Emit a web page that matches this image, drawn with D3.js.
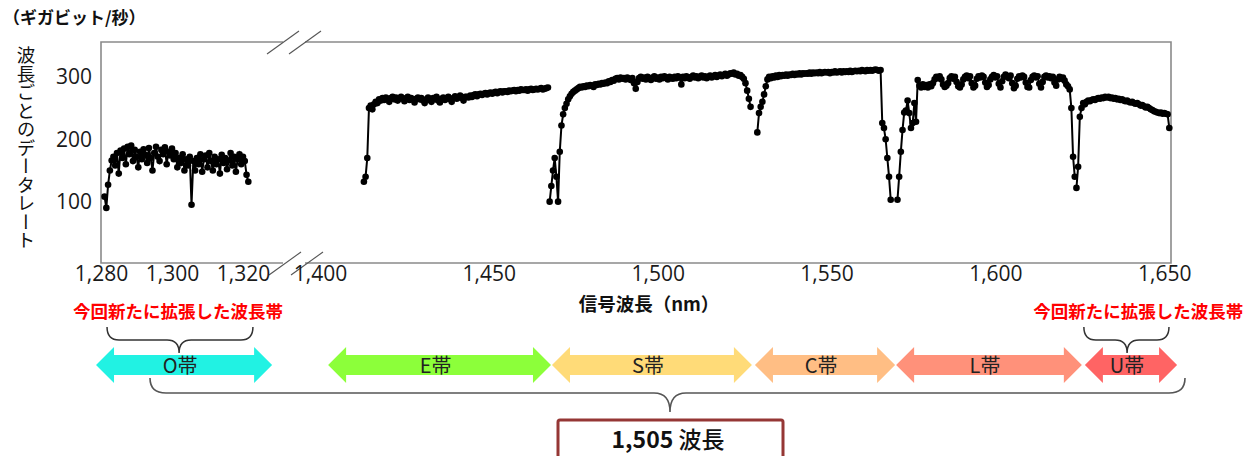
<!DOCTYPE html>
<html>
<head>
<meta charset="utf-8">
<script src="https://cdn.jsdelivr.net/npm/d3@7"></script>
<style>
  body { margin: 0; background: #fff; }
  svg { display: block; }
</style>
</head>
<body>
<svg id="chart" width="1255" height="456"></svg>
<script>
// ===== Data =====
// Each band segment: first wavelength (nm), sampled every 0.5 nm, data rate in Gbit/s
const STEP = 0.5;

const oBandStart = 1281.0;
const oBand = [108, 90, 127, 150, 166, 172, 158, 178, 145, 182, 170, 185, 160, 188, 176, 190, 165, 183, 172, 155,
  180, 168, 184, 175, 162, 186, 170, 150, 178, 188, 172, 165, 183, 176, 187, 160, 180, 174, 185, 168,
  178, 155, 170, 162, 176, 150, 168, 158, 172, 95, 165, 150, 170, 160, 176, 148, 168, 174, 155, 178,
  165, 150, 172, 160, 168, 145, 175, 162, 170, 152, 166, 178, 158, 172, 148, 168, 176, 160, 172, 165,
  143, 132];

const eBandStart = 1413.0;
const eBand = [132, 140, 170, 250, 254, 248, 256, 260, 258, 264, 262, 266, 263, 267, 265, 260, 266, 268, 264, 267,
  262, 265, 268, 266, 261, 265, 268, 263, 266, 264, 259, 265, 267, 264, 266, 262, 258, 264, 267, 263,
  260, 266, 264, 268, 262, 259, 265, 267, 263, 266, 268, 264, 260, 266, 269, 265, 267, 270, 266, 262,
  268, 268, 267, 270, 268, 271, 272, 269, 272, 273, 271, 273, 274, 272, 274, 275, 273, 275, 276, 274,
  276, 277, 275, 277, 277, 276, 278, 277, 278, 279, 277, 279, 278, 280, 279, 279, 280, 278, 280, 281,
  279, 280, 281, 280, 281, 282, 280, 281, 282, 283];

const sBandStart = 1468.0;
const sBand = [100, 125, 150, 170, 140, 100, 180, 222, 240, 250, 257, 264, 269, 273, 276, 278, 280, 282, 284, 283,
  285, 284, 286, 285, 287, 286, 284, 288, 287, 289, 288, 290, 289, 291, 290, 293, 292, 295, 294, 297,
  298, 296, 299, 297, 298, 296, 299, 297, 295, 298, 290, 281, 292, 298, 300, 297, 299, 296, 300, 298,
  295, 299, 301, 297, 299, 296, 300, 298, 301, 299, 296, 300, 298, 297, 300, 298, 301, 299, 288, 300,
  298, 301, 299, 297, 300, 302, 299, 301, 298, 300, 302, 299, 301, 298, 300, 302, 299, 301, 303, 300,
  302, 304, 301, 303, 305, 302, 304, 306, 305, 307, 304, 305, 302, 303, 300, 297, 290, 278, 265, 252];

const cBandStart = 1529.5;
const cBand = [211, 242, 252, 260, 272, 285, 296, 300, 298, 301, 299, 302, 300, 303, 301, 303, 302, 304, 302, 304,
  303, 305, 303, 305, 304, 306, 304, 306, 305, 306, 305, 307, 305, 307, 306, 307, 306, 308, 306, 307,
  308, 307, 308, 306, 308, 307, 309, 307, 308, 309, 307, 309, 308, 309, 308, 310, 308, 309, 310, 309,
  310, 309, 311, 310, 309, 311, 310, 311, 310, 311, 312, 311, 310, 311, 226, 218, 200, 170, 140, 103];

const lBandStart = 1571.0;
const lBand = [103, 140, 180, 215, 243, 246, 262, 242, 218, 226, 258, 228, 295, 286, 283, 288, 284, 287, 283, 288,
  285, 290, 296, 300, 298, 301, 296, 288, 284, 286, 290, 298, 301, 297, 300, 292, 285, 283, 288, 296,
  300, 302, 298, 301, 290, 283, 286, 297, 301, 299, 302, 300, 291, 284, 287, 296, 300, 303, 299, 301,
  289, 283, 293, 300, 304, 301, 298, 302, 290, 282, 286, 297, 301, 299, 302, 300, 291, 284, 283, 295,
  300, 302, 299, 301, 289, 283, 292, 300, 302, 299, 301, 298, 300, 291, 286, 296, 300, 297, 299, 294,
  288, 285, 280, 250, 172, 140];

const uBandStart = 1624.0;
const uBand = [122, 156, 236, 250, 258, 256, 260, 262, 261, 263, 264, 263, 265, 266, 265, 267, 266, 268, 267, 268,
  266, 267, 265, 266, 264, 265, 263, 264, 262, 261, 262, 260, 259, 260, 258, 257, 258, 256, 254, 255,
  253, 251, 252, 250, 248, 247, 245, 244, 243, 242, 243, 241, 242, 241, 240, 218];

const segmentStarts = [oBandStart, eBandStart, sBandStart, cBandStart, lBandStart, uBandStart];
const segmentValues = [oBand, eBand, sBand, cBand, lBand, uBand];

// Axis ticks
const leftTicks = [1280, 1300, 1320];
const rightTicks = [1400, 1450, 1500, 1550, 1600, 1650];
const yTicks = [100, 200, 300];

// Band arrows (nm extents as drawn under the chart)
const bandNames = ['O帯', 'E帯', 'S帯', 'C帯', 'L帯', 'U帯'];
const bandFrom = [1278.6, 1402.4, 1468.7, 1528.8, 1570.6, 1626.5];
const bandTo = [1328.2, 1468.4, 1527.9, 1570.3, 1625.6, 1653.8];
const bandColors = ['#21F2E3', '#8CFF3A', '#FFDB78', '#FFBE84', '#FF917A', '#FF6464'];

// Newly extended bands (O and U): brace left, brace right, brace tip, label centre (nm)
const newBandLabel = '今回新たに拡張した波長帯';
const newBraceFrom = [1281.7, 1626.2];
const newBraceTo = [1322.8, 1651.4];
const newBraceTip = [1302.0, 1639.0];
const newLabelAt = [1301.7, 1642.3];

const totalLabelNum = '1,505';
const totalLabelUnit = ' 波長';

// ===== Setup =====
const svg = d3.select('#chart');
const cjk = '"Noto Sans CJK JP", "Noto Sans", sans-serif';
const num = '"Open Sans", "Noto Sans", sans-serif';

const plotTop = 42, plotBottom = 263, plotLeft = 101, plotRight = 1171;
const xLeft = d3.scaleLinear().domain([1280, 1320]).range([plotLeft, 243]);
const xRight = d3.scaleLinear().domain([1400, 1652]).range([320, plotRight]);
const xPos = nm => (nm < 1360 ? xLeft(nm) : xRight(nm));
const y = d3.scaleLinear().domain([0, 356]).range([264, plotTop]);

// ===== Frame with axis break =====
const gapL = 283, gapR = 305;
const frameColor = '#8a8a8a';
const frame = svg.append('g')
  .attr('fill', 'none')
  .attr('stroke', frameColor)
  .attr('stroke-width', 1.6);
frame.append('path').attr('d',
  `M${gapL},${plotTop} L${plotLeft},${plotTop} L${plotLeft},${plotBottom} L${gapL},${plotBottom}` +
  ` M${gapR},${plotTop} L${plotRight},${plotTop} L${plotRight},${plotBottom} L${gapR},${plotBottom}`);

// break slashes
[plotTop, plotBottom].forEach((yy, k) => {
  const shift = k === 0 ? 0 : 2;
  [-11, 11].forEach(dx => {
    const cx = (gapL + gapR) / 2 + dx + shift;
    svg.append('line')
      .attr('x1', cx - 16).attr('y1', yy + 12)
      .attr('x2', cx + 16).attr('y2', yy - 11)
      .attr('stroke', '#555')
      .attr('stroke-width', 1.1);
  });
});

// ===== Axes =====
function styleAxis(g) {
  g.select('.domain').remove();
  g.selectAll('text')
    .attr('fill', '#1a1a1a')
    .style('font-family', num)
    .style('font-size', '21px');
}

svg.append('g')
  .attr('transform', `translate(0,${plotBottom})`)
  .call(d3.axisBottom(xLeft).tickValues(leftTicks).tickFormat(d3.format(',')).tickSize(0).tickPadding(3))
  .call(styleAxis);

svg.append('g')
  .attr('transform', `translate(0,${plotBottom})`)
  .call(d3.axisBottom(xRight).tickValues(rightTicks).tickFormat(d3.format(',')).tickSize(0).tickPadding(3))
  .call(styleAxis);

svg.append('g')
  .attr('transform', `translate(${plotLeft},0)`)
  .call(d3.axisLeft(y).tickValues(yTicks).tickSize(0).tickPadding(9))
  .call(styleAxis);

// unit label
svg.append('text')
  .attr('x', 3).attr('y', 24)
  .style('font-family', cjk).style('font-size', '17px').style('font-weight', 'bold')
  .attr('fill', '#111')
  .text('（ギガビット/秒）');

// vertical y label
svg.append('text')
  .attr('x', 26).attr('y', 46)
  .style('font-family', cjk).style('font-size', '18.5px')
  .style('writing-mode', 'vertical-rl')
  .attr('fill', '#111')
  .text('波長ごとのデータレート');

// x label
svg.append('text')
  .attr('x', 649).attr('y', 311)
  .attr('text-anchor', 'middle')
  .style('font-family', cjk).style('font-size', '18.5px').style('font-weight', 'bold')
  .attr('fill', '#111')
  .text('信号波長（nm）');

// ===== Data series =====
const plot = svg.append('g');
const line = d3.line().x(d => xPos(d.nm)).y(d => y(d.v));

segmentValues.forEach((vals, si) => {
  const pts = vals.map((v, i) => ({ nm: segmentStarts[si] + i * STEP, v }));
  plot.append('path')
    .datum(pts)
    .attr('d', line)
    .attr('fill', 'none')
    .attr('stroke', '#000')
    .attr('stroke-width', 2);
  plot.selectAll(null)
    .data(pts)
    .join('circle')
    .attr('cx', d => xPos(d.nm))
    .attr('cy', d => y(d.v))
    .attr('r', 3.3)
    .attr('fill', '#000');
});

// ===== Band arrows =====
const arrowY = 365, headHalf = 18, shaftHalf = 10, headW = 18;
bandNames.forEach((name, i) => {
  const x1 = xPos(bandFrom[i]), x2 = xPos(bandTo[i]);
  const pts = [
    [x1, arrowY],
    [x1 + headW, arrowY - headHalf], [x1 + headW, arrowY - shaftHalf],
    [x2 - headW, arrowY - shaftHalf], [x2 - headW, arrowY - headHalf],
    [x2, arrowY],
    [x2 - headW, arrowY + headHalf], [x2 - headW, arrowY + shaftHalf],
    [x1 + headW, arrowY + shaftHalf], [x1 + headW, arrowY + headHalf]
  ];
  svg.append('polygon')
    .attr('points', pts.map(p => p.join(',')).join(' '))
    .attr('fill', bandColors[i]);
  svg.append('text')
    .attr('x', (x1 + x2) / 2 - 4).attr('y', arrowY + 8)
    .attr('text-anchor', 'middle')
    .style('font-family', cjk).style('font-size', '20px')
    .attr('fill', '#222')
    .text(name);
});

// ===== Braces =====
function brace(x1, x2, xc, yEnd, yMid, yTip, r) {
  return `M${x1},${yEnd} Q${x1},${yMid} ${x1 + r},${yMid} L${xc - r},${yMid} Q${xc},${yMid} ${xc},${yTip}` +
    ` Q${xc},${yMid} ${xc + r},${yMid} L${x2 - r},${yMid} Q${x2},${yMid} ${x2},${yEnd}`;
}

newBraceFrom.forEach((from, i) => {
  svg.append('path')
    .attr('d', brace(xPos(from), xPos(newBraceTo[i]), xPos(newBraceTip[i]), 327, 340, 353, 12))
    .attr('fill', 'none').attr('stroke', '#333').attr('stroke-width', 1.5);
  svg.append('text')
    .attr('x', xPos(newLabelAt[i])).attr('y', 318)
    .attr('text-anchor', 'middle')
    .style('font-family', cjk).style('font-size', '17.5px').style('font-weight', 'bold')
    .attr('fill', '#FF0000')
    .text(newBandLabel);
});

// big brace covering every band
svg.append('path')
  .attr('d', brace(150, 1185, 670, 378, 393, 412, 16))
  .attr('fill', 'none').attr('stroke', '#555').attr('stroke-width', 1.6);

// total box
svg.append('rect')
  .attr('x', 558).attr('y', 420).attr('width', 225).attr('height', 60).attr('rx', 2)
  .attr('fill', '#fff').attr('stroke', '#953735').attr('stroke-width', 3);

const tot = svg.append('text')
  .attr('x', 668).attr('y', 448)
  .attr('text-anchor', 'middle')
  .style('font-family', cjk).style('font-size', '23px')
  .attr('fill', '#111');
tot.append('tspan').style('font-weight', 'bold').text(totalLabelNum);
tot.append('tspan').style('font-weight', '500').text(totalLabelUnit);
</script>
</body>
</html>
